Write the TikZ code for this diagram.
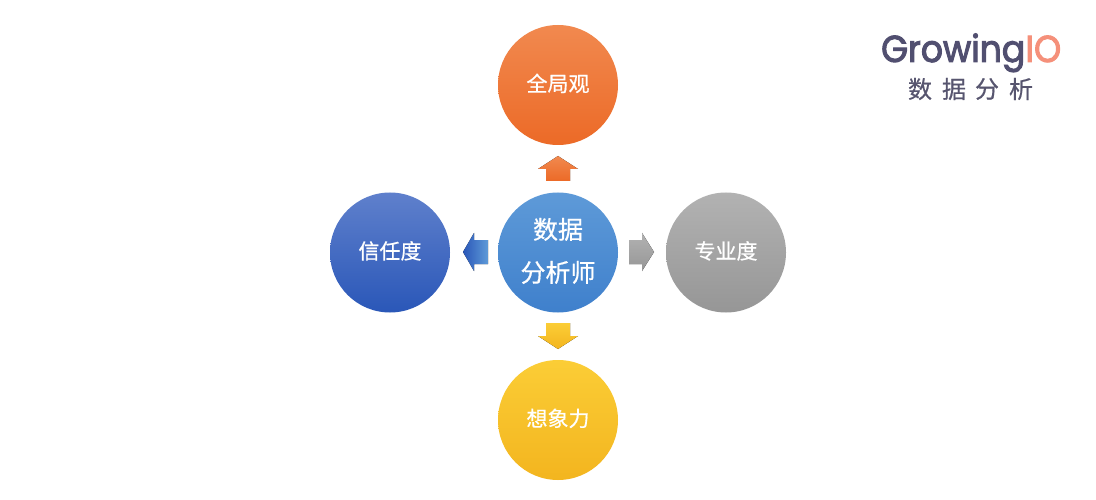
\documentclass[tikz,border=0pt]{standalone}
\usepackage{fontspec}
\setmainfont[FakeBold=0.6]{Noto Sans CJK SC}
\newfontfamily\logofont[FakeBold=2.6,FakeStretch=0.92]{Poppins}
\definecolor{logodark}{HTML}{514F70}
\definecolor{logoorange}{HTML}{F5907A}
\definecolor{logotext}{HTML}{57556F}
\definecolor{orangetop}{HTML}{F1894F}
\definecolor{orangelow}{HTML}{EC6A27}
\definecolor{bluetop}{HTML}{5E9AD8}
\definecolor{bluelow}{HTML}{3F80CC}
\definecolor{navytop}{HTML}{5F80CC}
\definecolor{navylow}{HTML}{2A57B8}
\definecolor{greytop}{HTML}{B2B2B2}
\definecolor{greylow}{HTML}{969696}
\definecolor{yellowtop}{HTML}{FBCD36}
\definecolor{yellowlow}{HTML}{F3B51F}
\newcommand{\liftby}[1]{\raisebox{1.6pt}[\height][\depth]{#1}}
\tikzset{
  bubble/.style={circle,minimum size=120pt,inner sep=0pt,text=white,font=\fontsize{21}{24}\selectfont,align=center},
  orangeball/.style={top color=orangetop,bottom color=orangelow},
  blueball/.style={top color=bluetop,bottom color=bluelow},
  navyball/.style={top color=navytop,bottom color=navylow},
  greyball/.style={top color=greytop,bottom color=greylow},
  yellowball/.style={top color=yellowtop,bottom color=yellowlow},
  logoword/.style={inner sep=0pt,anchor=base west,font=\logofont\fontsize{37.5}{44}\selectfont},
  logocjk/.style={inner sep=0pt,text=logotext,font=\fontsize{24}{28}\selectfont}
}
\begin{document}
\begin{tikzpicture}[x=1pt,y=-1pt]
\useasboundingbox (0,0) rectangle (1096,500);
\fill[white] (0,0) rectangle (1096,500);
\node[bubble,orangeball] (top) at (558,85) {\liftby{全局观}};
\node[bubble,blueball,font=\fontsize{25}{43}\selectfont] (mid) at (558,252.5) {\liftby{数据}\\\liftby{分析师}};
\node[bubble,navyball] (left) at (390,252.5) {\liftby{信任度}};
\node[bubble,greyball] (right) at (726,252.5) {\liftby{专业度}};
\node[bubble,yellowball] (bottom) at (558,420) {\liftby{想象力}};
\fill[orangeball] (558,156) -- (578,169) -- (570,169) -- (570,181) -- (546,181) -- (546,169) -- (538,169) -- cycle;
\fill[left color=navylow,right color=bluetop] (463,252) -- (474,233) -- (474,240) -- (488,240) -- (488,264) -- (474,264) -- (474,271) -- cycle;
\fill[greyball] (654,252) -- (642,233) -- (642,240) -- (629,240) -- (629,264) -- (642,264) -- (642,271) -- cycle;
\fill[yellowball] (558,349) -- (578,336) -- (570,336) -- (570,323) -- (546,323) -- (546,336) -- (538,336) -- cycle;
\node[logoword,text=logodark] (logoa) at (881,62) {Growing};
\node[logoword,text=logoorange] (logob) at (logoa.base east) {IO};
\node[logocjk] (l1) at (920,89) {数};
\node[logocjk] (l2) at (954,89) {据};
\node[logocjk] (l3) at (987,89) {分};
\node[logocjk] (l4) at (1021,89) {析};
\end{tikzpicture}
\end{document}
